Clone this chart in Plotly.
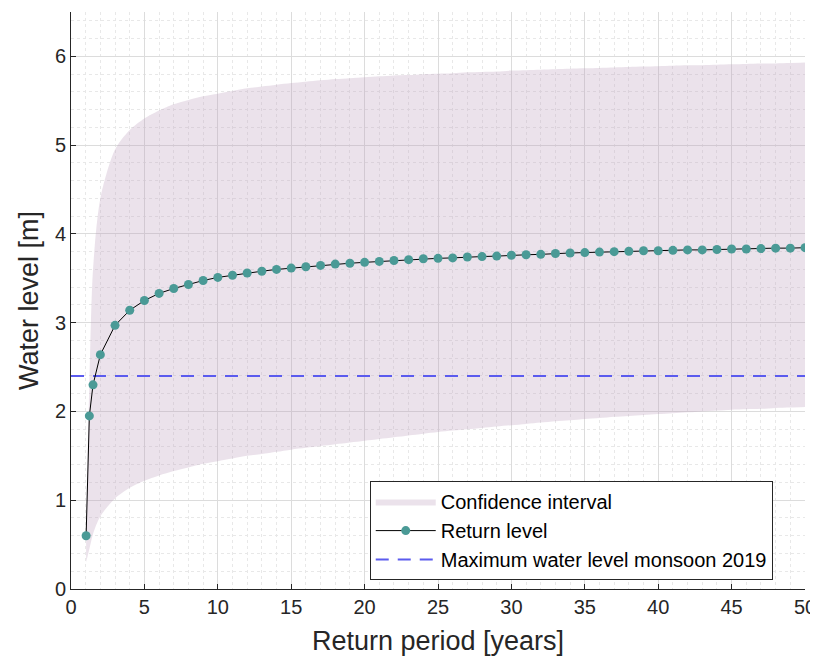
import plotly.graph_objects as go

# Return periods [years]
return_period = [1.03, 1.25, 1.5] + list(range(2, 51))

# Return level [m]
return_level = [0.60, 1.95, 2.30, 2.64, 2.97, 3.14, 3.25, 3.33, 3.385, 3.43, 3.475, 3.51,
                3.535, 3.56, 3.58, 3.60, 3.615, 3.63, 3.645, 3.66, 3.67, 3.68,
                3.69, 3.70, 3.71, 3.72, 3.725, 3.73, 3.74, 3.745, 3.75, 3.76,
                3.765, 3.77, 3.78, 3.785, 3.79, 3.795, 3.80, 3.805, 3.81, 3.81,
                3.815, 3.82, 3.82, 3.825, 3.83, 3.83, 3.835, 3.84, 3.84, 3.845]

# Confidence interval bounds [m]
ci_upper = [0.80, 2.30, 3.60, 4.40, 4.95, 5.17, 5.30, 5.39, 5.46, 5.51, 5.55, 5.58,
            5.61, 5.64, 5.66, 5.68, 5.70, 5.715, 5.73, 5.745, 5.755, 5.765,
            5.775, 5.785, 5.79, 5.80, 5.805, 5.81, 5.82, 5.825, 5.83, 5.84,
            5.845, 5.85, 5.855, 5.86, 5.865, 5.87, 5.875, 5.88, 5.885, 5.89,
            5.895, 5.90, 5.90, 5.905, 5.91, 5.915, 5.92, 5.92, 5.925, 5.93]
ci_lower = [0.30, 0.45, 0.62, 0.82, 1.02, 1.14, 1.22, 1.28, 1.33, 1.37, 1.41, 1.44,
            1.47, 1.50, 1.52, 1.545, 1.57, 1.59, 1.61, 1.63, 1.65, 1.67,
            1.69, 1.71, 1.73, 1.75, 1.77, 1.785, 1.80, 1.815, 1.83, 1.845,
            1.86, 1.875, 1.89, 1.90, 1.915, 1.925, 1.94, 1.95, 1.96, 1.97,
            1.98, 1.99, 2.00, 2.01, 2.02, 2.025, 2.03, 2.04, 2.045, 2.05]

# Maximum water level monsoon 2019 [m]
max_level_2019 = 2.40
x_range = [0, 50]
y_range = [0, 6.5]

FONT = "Liberation Sans, Arial, sans-serif"
band_color = "rgba(190,160,190,0.30)"

fig = go.Figure()

fig.add_trace(go.Scatter(
    x=return_period, y=ci_lower, mode="lines",
    line=dict(width=0, shape="spline", smoothing=0.8),
    showlegend=False, hoverinfo="skip"))
fig.add_trace(go.Scatter(
    x=return_period, y=ci_upper, mode="lines",
    line=dict(width=0, shape="spline", smoothing=0.8),
    fill="tonexty", fillcolor=band_color,
    name="Confidence interval", legendrank=1))

fig.add_trace(go.Scatter(
    x=x_range, y=[max_level_2019, max_level_2019], mode="lines",
    line=dict(color="#5b5bee", width=2, dash="13px,9px"),
    name="Maximum water level monsoon 2019", legendrank=3))

fig.add_trace(go.Scatter(
    x=return_period, y=return_level, mode="lines+markers",
    line=dict(color="black", width=1),
    marker=dict(color="#4a9a96", size=9, line=dict(width=0)),
    name="Return level", legendrank=2))

axis_common = dict(
    showline=True, linecolor="#262626", linewidth=1,
    ticks="inside", ticklen=5, tickcolor="#262626",
    showgrid=True, gridcolor="#dcdcdc", gridwidth=1,
    zeroline=False, mirror=False, automargin=False,
    tickfont=dict(family=FONT, size=20, color="#262626"),
)

fig.update_xaxes(
    range=x_range, dtick=5, tick0=0,
    title=dict(text="Return period [years]", font=dict(family=FONT, size=27, color="#262626"), standoff=14),
    minor=dict(dtick=1, showgrid=True, gridcolor="#e8e8e8", griddash="dot", ticks=""),
    **axis_common)
fig.update_yaxes(
    range=y_range, dtick=1, tick0=0,
    title=dict(text="Water level [m]", font=dict(family=FONT, size=27, color="#262626"), standoff=8),
    minor=dict(dtick=0.2, showgrid=True, gridcolor="#e8e8e8", griddash="dot", ticks=""),
    **axis_common)

fig.update_layout(
    width=810, height=656,
    margin=dict(l=63, r=13, t=4, b=75),
    paper_bgcolor="white", plot_bgcolor="white",
    font=dict(family=FONT, color="#262626"),
    legend=dict(
        x=0.407, y=0.187, xanchor="left", yanchor="top",
        bgcolor="white", bordercolor="#262626", borderwidth=1,
        font=dict(family=FONT, size=20, color="black"),
        itemwidth=60, tracegroupgap=0, traceorder="normal",
    ),
    showlegend=True,
)

fig.write_html("out.html")
